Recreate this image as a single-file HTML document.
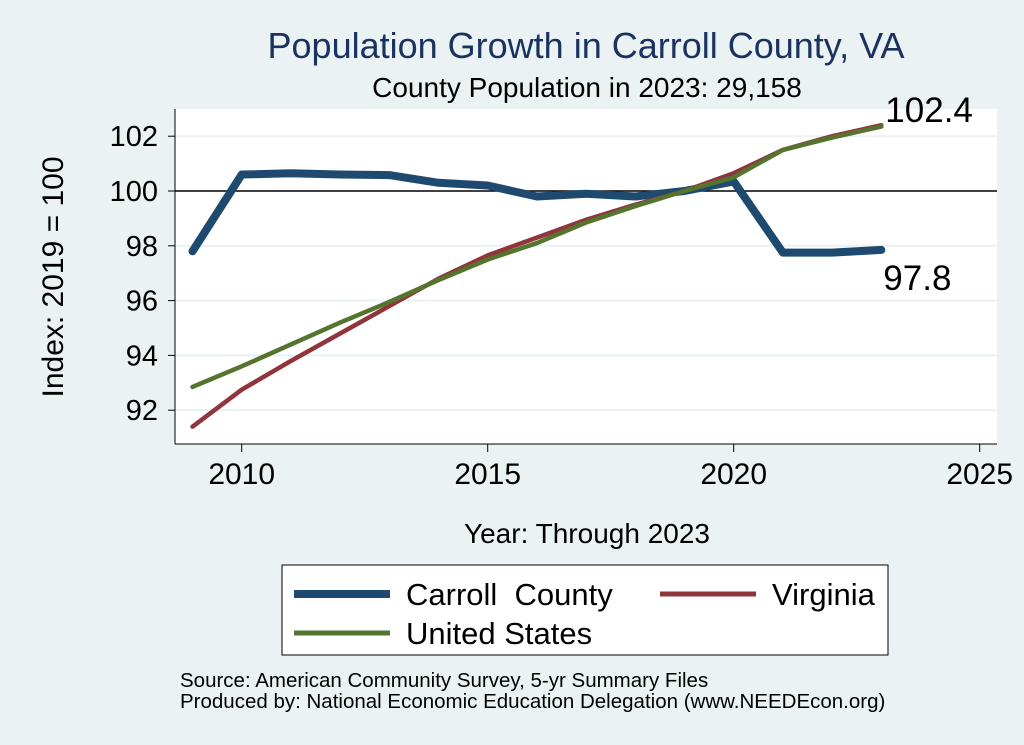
<!DOCTYPE html>
<html><head><meta charset="utf-8"><style>
body{margin:0;background:#eaf2f3;}
svg{display:block;font-family:"Liberation Sans",Arial,sans-serif;}
</style></head><body>
<svg width="1024" height="745" viewBox="0 0 1024 745">
<rect x="0" y="0" width="1024" height="745" fill="#eaf2f3"/>
<text x="586" y="58" font-size="36" fill="#1a3260" text-anchor="middle">Population Growth in Carroll County, VA</text>
<text x="587" y="97" font-size="28" fill="#000" text-anchor="middle">County Population in 2023: 29,158</text>
<rect x="175" y="109" width="822" height="335" fill="#fff"/>
<g id="grid"></g>
<g id="axes"></g>
<g id="series"></g>
<text x="55" y="277" font-size="30" transform="rotate(-90 55 277)" text-anchor="middle" dominant-baseline="middle">Index: 2019 = 100</text>
<text x="587" y="543" font-size="28" text-anchor="middle">Year: Through 2023</text>
<g>
<rect x="282" y="565" width="606" height="90" fill="#fff" stroke="#000" stroke-width="1"/>
<line x1="294" y1="594" x2="390" y2="594" stroke="#1f4a70" stroke-width="8"/>
<text x="406" y="605" font-size="31">Carroll&#160; County</text>
<line x1="660" y1="594" x2="756" y2="594" stroke="#90353b" stroke-width="5"/>
<text x="772" y="605" font-size="31">Virginia</text>
<line x1="294" y1="633" x2="390" y2="633" stroke="#55752f" stroke-width="5"/>
<text x="406" y="644" font-size="31">United States</text>
</g>
<text x="180" y="687" font-size="20.5">Source: American Community Survey, 5-yr Summary Files</text>
<text x="180" y="708" font-size="20.5">Produced by: National Economic Education Delegation (www.NEEDEcon.org)</text>
</svg>
<script>
const years=[2009,2010,2011,2012,2013,2014,2015,2016,2017,2018,2019,2020,2021,2022,2023];
const carroll=[97.8,100.6,100.65,100.6,100.58,100.3,100.2,99.8,99.9,99.8,100,100.35,97.75,97.75,97.85];
const virginia=[91.4,92.75,93.8,94.8,95.8,96.8,97.65,98.3,98.95,99.5,100,100.65,101.5,102.0,102.4];
const us=[92.85,93.6,94.4,95.2,95.95,96.75,97.5,98.1,98.85,99.45,100,100.5,101.5,101.95,102.35];
const yTicks=[92,94,96,98,100,102];
const xTicks=[2010,2015,2020,2025];
const NS='http://www.w3.org/2000/svg';
const X=v=>241.7+(v-2010)*49.2;
const Y=v=>191-(v-100)*27.4;
function mk(tag,attrs,parent){const e=document.createElementNS(NS,tag);for(const k in attrs)e.setAttribute(k,attrs[k]);parent.appendChild(e);return e;}
const grid=document.getElementById('grid'),axes=document.getElementById('axes'),series=document.getElementById('series');
yTicks.forEach(t=>{
 if(t!==100){const g=mk('line',{x1:176,x2:997,y1:Y(t),y2:Y(t),stroke:'#eaf2f3','stroke-width':2},grid);
 
 }
 const tk=mk('line',{x1:168,x2:175,y1:Y(t),y2:Y(t),stroke:'#000'},axes);
 
 
 const lb=mk('text',{x:158,y:Y(t)+10,'font-size':29,'text-anchor':'end'},axes);lb.textContent=t;
 
 
});
const ref=mk('line',{x1:175,x2:997,y1:Y(100),y2:Y(100),stroke:'#000','stroke-width':1.5},grid);


xTicks.forEach(t=>{
 const tk=mk('line',{x1:X(t),x2:X(t),y1:444,y2:452,stroke:'#000'},axes);
 
 
 const lb=mk('text',{x:X(t),y:484,'font-size':30,'text-anchor':'middle'},axes);lb.textContent=t;
 
 
});
const ya=mk('line',{x1:175,x2:175,y1:109,y2:444,stroke:'#000'},axes);


const xa=mk('line',{x1:175,x2:997,y1:444,y2:444,stroke:'#000'},axes);


function line(vals,color,w,name){
 const p=mk('polyline',{points:vals.map((v,i)=>X(years[i])+','+Y(v)).join(' '),fill:'none',stroke:color,'stroke-width':w,'stroke-linejoin':'round','stroke-linecap':'round'},series);
 
 
}
line(carroll,'#1f4a70',8,'series-carroll');
line(virginia,'#90353b',4.5,'series-virginia');
line(us,'#55752f',4.5,'series-us');
const n=years.length-1;
const l1=mk('text',{x:X(years[n])+4,y:Y(virginia[n])-3,'font-size':35},series);l1.textContent=virginia[n].toFixed(1);


const l2=mk('text',{x:X(years[n])+2,y:Y(carroll[n])+40,'font-size':35},series);l2.textContent=carroll[n].toFixed(1);


</script>
</body></html>
